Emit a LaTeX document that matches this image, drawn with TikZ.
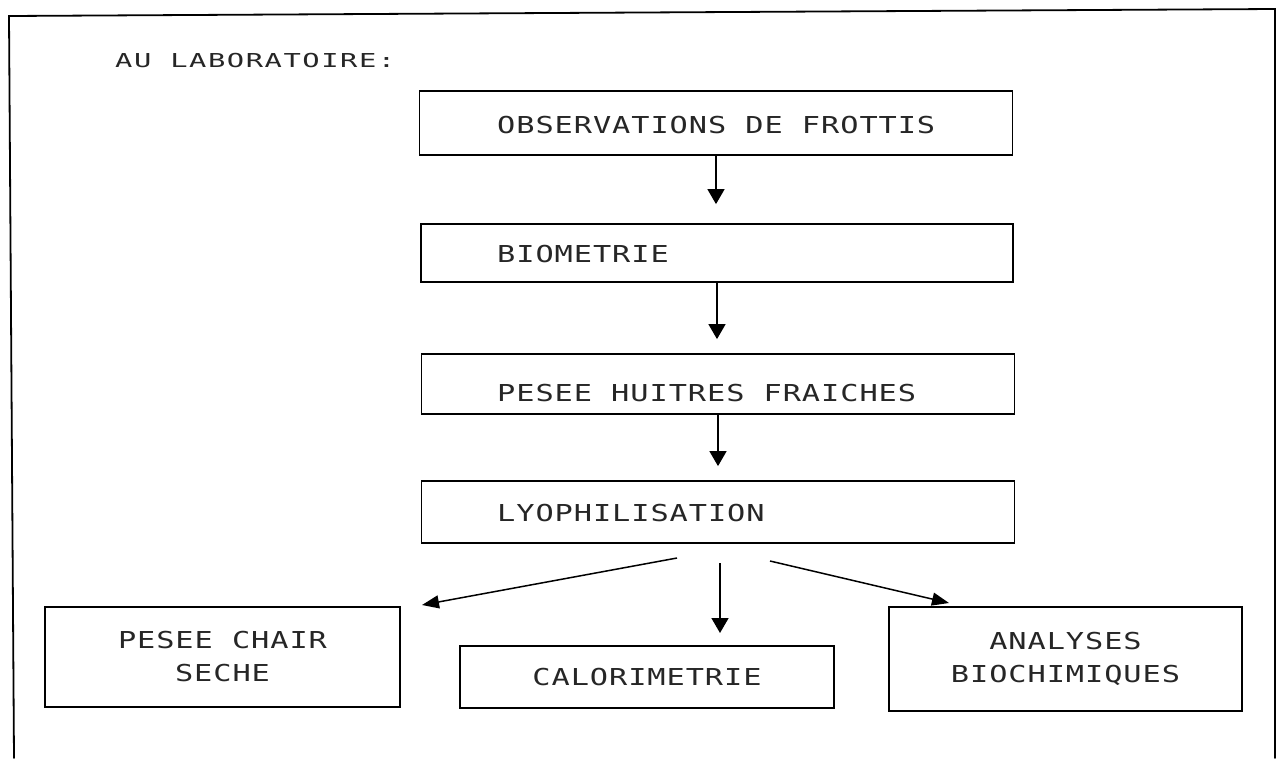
\documentclass[tikz,border=0pt]{standalone}
\usepackage{fontspec}
\usetikzlibrary{arrows.meta}
\newfontfamily\dm[FakeStretch=1.3,LetterSpace=4]{DejaVu Sans Mono}
\newfontfamily\dmt[FakeStretch=1.5,LetterSpace=8]{DejaVu Sans Mono}
\tikzset{
  box/.style={draw=black, line width=1.8pt, inner sep=0pt, font=\dm\fontsize{23.3}{33}\selectfont, align=center, text=black!85},
  txt/.style={inner sep=0pt, font=\dm\fontsize{23.3}{33}\selectfont, anchor=base west, text=black!85},
  ttl/.style={inner sep=0pt, font=\dmt\fontsize{19.2}{24}\selectfont, anchor=base west, text=black!85},
  arr/.style={line width=1.5pt, -{Triangle[length=15pt,width=17pt]}, shorten >=14pt},
  darr/.style={line width=1.5pt, -{Triangle[length=17pt,width=13pt]}},
  frame/.style={line width=1.8pt, line cap=round}
}
\begin{document}
\begin{tikzpicture}[x=1pt,y=-1pt]
\useasboundingbox (0,0) rectangle (1277,758);
% frame
\coordinate (f1) at (9,16);
\coordinate (f2) at (1275,9);
\coordinate (f3) at (14,758);
\coordinate (f4) at (1275,758);
\draw[frame] (f3) -- (f1) -- (f2) -- (f4);
% title
\node[ttl] (title) at (115,67.3) {AU LABORATOIRE:};
% main column boxes
\node[box, minimum width=593, minimum height=64] (b1) at (716,123) {};
\node[txt] (t1) at (497,133.3) {OBSERVATIONS DE FROTTIS};
\node[box, minimum width=592, minimum height=58] (b2) at (717,253) {};
\node[txt] (t2) at (497,262.7) {BIOMETRIE};
\node[box, minimum width=593, minimum height=60] (b3) at (718,384) {};
\node[txt] (t3) at (497,401.7) {PESEE HUITRES FRAICHES};
\node[box, minimum width=593, minimum height=62] (b4) at (718,512) {};
\node[txt] (t4) at (497,521.7) {LYOPHILISATION};
% bottom boxes
\node[box, minimum width=355, minimum height=100] (b5) at (222.5,657) {PESEE CHAIR\\SECHE};
\node[box, minimum width=374, minimum height=62] (b6) at (647,677) {CALORIMETRIE};
\node[box, minimum width=353, minimum height=104] (b7) at (1065.5,659) {ANALYSES\\BIOCHIMIQUES};
% vertical arrows
\draw[arr, shorten >=19pt] (b1.south) -- (b1.south |- b2.north);
\draw[arr] (b2.south) -- (b2.south |- b3.north);
\draw[arr] (b3.south) -- (b3.south |- b4.north);
% fan-out arrows
\coordinate (l1) at (677,558);
\coordinate (l2) at (422,605);
\coordinate (m1) at (720,563);
\coordinate (m2) at (720,633);
\coordinate (r1) at (770,561);
\coordinate (r2) at (949,603);
\draw[darr] (l1) -- (l2);
\draw[arr, shorten >=0pt] (m1) -- (m2);
\draw[darr] (r1) -- (r2);
\end{tikzpicture}
\end{document}
